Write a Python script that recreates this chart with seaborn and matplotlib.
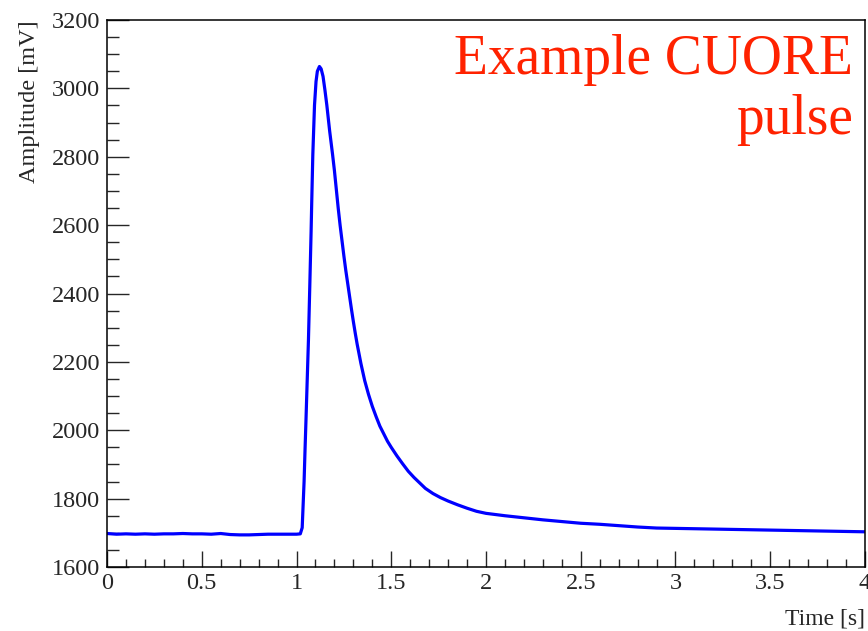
import matplotlib
matplotlib.use("Agg")
import matplotlib.pyplot as plt
import seaborn as sns
import pandas as pd
from matplotlib.ticker import MultipleLocator

# --- data ---
time_s = [0.00, 0.05, 0.10, 0.15, 0.20, 0.25, 0.30, 0.35, 0.40, 0.45,
          0.50, 0.55, 0.60, 0.65, 0.70, 0.75, 0.80, 0.85, 0.90, 0.95,
          1.00, 1.02, 1.03, 1.04, 1.045, 1.05, 1.055, 1.063, 1.07, 1.077,
          1.08, 1.086, 1.095, 1.103, 1.11, 1.121, 1.13, 1.14, 1.15, 1.16,
          1.175, 1.19, 1.20, 1.21, 1.22, 1.23, 1.24, 1.25, 1.26, 1.27,
          1.28, 1.29, 1.30, 1.31, 1.32, 1.34, 1.36, 1.38, 1.40, 1.42,
          1.44, 1.46, 1.48, 1.50, 1.53, 1.56, 1.59, 1.62, 1.65, 1.68,
          1.72, 1.76, 1.80, 1.85, 1.90, 1.95, 2.00, 2.10, 2.20, 2.30,
          2.40, 2.50, 2.60, 2.70, 2.80, 2.90, 3.00, 3.10, 3.20, 3.30,
          3.40, 3.50, 3.60, 3.70, 3.80, 3.90, 4.00]
amplitude_mV = [1698, 1696, 1697, 1696, 1697, 1696, 1697, 1697, 1698, 1697,
                1697, 1696, 1698, 1695, 1694, 1694, 1695, 1696, 1696, 1696,
                1696, 1697, 1715, 1850, 1943, 2030, 2120, 2264, 2420, 2581,
                2659, 2805, 2951, 3020, 3050, 3064, 3057, 3035, 2995, 2951,
                2875, 2808, 2760, 2705, 2650, 2600, 2555, 2510, 2468, 2430,
                2392, 2354, 2318, 2284, 2252, 2195, 2145, 2105, 2070, 2040,
                2012, 1990, 1968, 1950, 1925, 1902, 1880, 1862, 1846, 1830,
                1815, 1803, 1793, 1782, 1772, 1763, 1757, 1750, 1744, 1738,
                1733, 1728, 1725, 1721, 1717, 1714, 1713, 1712, 1711, 1710,
                1709, 1708, 1707, 1706, 1705, 1704, 1703]

x_label = "Time [s]"
y_label = "Amplitude [mV]"
annotation = "Example CUORE\npulse"

df = pd.DataFrame({"time": time_s, "amp": amplitude_mV})

sns.set_style("ticks")
plt.rcParams["font.family"] = ["Liberation Serif", "DejaVu Serif"]

fig = plt.figure(figsize=(8.68, 6.31), dpi=100)
ax = fig.add_axes([0.1233, 0.1014, 0.8732, 0.8669])

sns.lineplot(data=df, x="time", y="amp", ax=ax, color="#0000ff",
             linewidth=2.3, estimator=None, sort=False)

ax.set_xlim(0, 4)
ax.set_ylim(1600, 3200)
ax.xaxis.set_major_locator(MultipleLocator(0.5))
ax.xaxis.set_minor_locator(MultipleLocator(0.1))
ax.yaxis.set_major_locator(MultipleLocator(200))
ax.yaxis.set_minor_locator(MultipleLocator(50))
ax.xaxis.set_major_formatter(matplotlib.ticker.FuncFormatter(lambda v, p: f"{v:g}"))

ax.tick_params(axis="x", which="major", direction="in", length=11.5, width=1.0,
               labelsize=17.5, pad=4, top=False)
ax.tick_params(axis="x", which="minor", direction="in", length=5.8, width=1.0, top=False)
ax.tick_params(axis="y", which="major", direction="in", length=16, width=1.0,
               labelsize=17.5, pad=5, right=False)
ax.tick_params(axis="y", which="minor", direction="in", length=8.5, width=1.0, right=False)

for s in ax.spines.values():
    s.set_visible(True)
    s.set_linewidth(1.1)
    s.set_color("black")

ax.set_xlabel("")
ax.set_ylabel("")
fig.text(0.9965, 0.002, x_label, ha="right", va="bottom", fontsize=17)
fig.text(0.034, 0.968, y_label, ha="center", va="top", rotation=90, fontsize=17.5)

ax.text(0.984, 0.975, annotation, transform=ax.transAxes, ha="right", va="top",
        fontsize=40, color="#ff2200", linespacing=1.22)

fig.savefig("out.png", dpi=100)
